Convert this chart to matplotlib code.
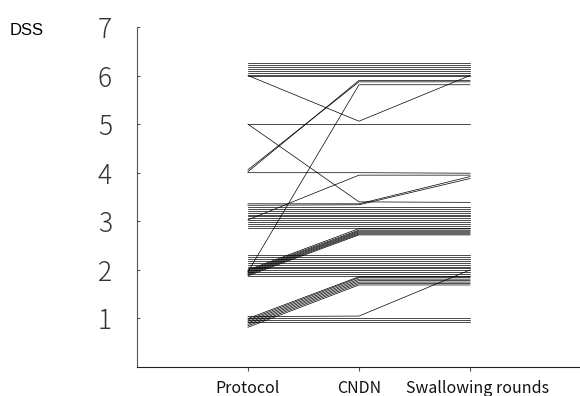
import matplotlib
matplotlib.use("Agg")
import matplotlib.pyplot as plt
import matplotlib.transforms as mtransforms

# DSS score of each patient at the three assessments
protocol = [6.26, 6.22, 6.18, 6.14, 6.10, 6.06, 6.02, 5.98,
            6.00, 5.00, 5.00, 4.00, 4.02, 4.06, 1.96, 3.03,
            3.36, 3.33,
            3.30, 3.26, 3.22, 3.18, 3.14, 3.10, 3.06, 3.02, 2.98, 2.94, 2.90, 2.87,
            1.88, 1.90, 1.92, 1.94, 1.96, 1.98, 2.00,
            2.31, 2.27, 2.23, 2.19, 2.15, 2.11, 2.07, 2.03, 1.99, 1.95, 1.91, 1.87,
            0.82, 0.85, 0.88, 0.91, 0.94, 0.97, 1.00,
            1.00, 0.96, 0.92, 1.04]
cndn = [6.26, 6.22, 6.18, 6.14, 6.10, 6.06, 6.02, 5.98,
        5.06, 5.00, 3.40, 4.00, 5.90, 5.87, 5.81, 3.95,
        3.36, 3.34,
        3.30, 3.26, 3.22, 3.18, 3.14, 3.10, 3.06, 3.02, 2.98, 2.94, 2.90, 2.87,
        2.72, 2.74, 2.76, 2.78, 2.80, 2.82, 2.85,
        2.31, 2.27, 2.23, 2.19, 2.15, 2.11, 2.07, 2.03, 1.99, 1.95, 1.91, 1.87,
        1.69, 1.72, 1.75, 1.78, 1.81, 1.84, 1.86,
        1.00, 0.96, 0.92, 1.05]
swallowing = [6.26, 6.22, 6.18, 6.14, 6.10, 6.06, 6.02, 5.98,
              6.00, 5.00, 3.39, 3.99, 5.90, 5.87, 5.81, 3.95,
              3.92, 3.88,
              3.30, 3.26, 3.22, 3.18, 3.14, 3.10, 3.06, 3.02, 2.98, 2.94, 2.90, 2.87,
              2.72, 2.74, 2.76, 2.78, 2.80, 2.82, 2.85,
              2.31, 2.27, 2.23, 2.19, 2.15, 2.11, 2.07, 2.03, 1.99, 1.95, 1.91, 1.87,
              1.69, 1.72, 1.75, 1.78, 1.81, 1.84, 1.86,
              1.00, 0.96, 0.92, 2.00]

stages = ["Protocol", "CNDN", "Swallowing rounds"]
yticks = [1, 2, 3, 4, 5, 6, 7]

plt.rcParams['font.family'] = ['Noto Sans CJK JP', 'DejaVu Sans']

fig = plt.figure(figsize=(5.8, 3.96), dpi=100)
ax = fig.add_axes([0.236, 0.073, 0.764, 0.859])

xs = [1, 2, 3]
for p, c, s in zip(protocol, cndn, swallowing):
    ax.plot(xs, [p, c, s], color="black", linewidth=0.5)

ax.set_xlim(0, 3.99)
ax.set_ylim(0, 7)
ax.set_xticks(xs)
ax.set_xticklabels(stages, fontsize=11.5, color="#111111")
ax.set_yticks(yticks)
ax.set_yticklabels([str(v) for v in yticks], fontsize=19,
                   fontweight="light", color="#333333")

ax.spines["top"].set_visible(False)
ax.spines["right"].set_visible(False)
ax.spines["left"].set_color("#555555")
ax.spines["left"].set_linewidth(0.8)
ax.spines["bottom"].set_color("#222222")
ax.tick_params(axis="y", direction="in", length=2, pad=18, color="#555555")
ax.tick_params(axis="x", direction="out", length=3, pad=6, color="#555555")

# the last stage label sits a little right of its tick
lbl = ax.get_xticklabels()[-1]
lbl.set_transform(lbl.get_transform() +
                  mtransforms.ScaledTranslation(8 / 100, 0, fig.dpi_scale_trans))

fig.text(0.017, 0.922, "DSS", fontsize=12, va="center", family="Liberation Sans")

fig.savefig("out.png", dpi=100)
